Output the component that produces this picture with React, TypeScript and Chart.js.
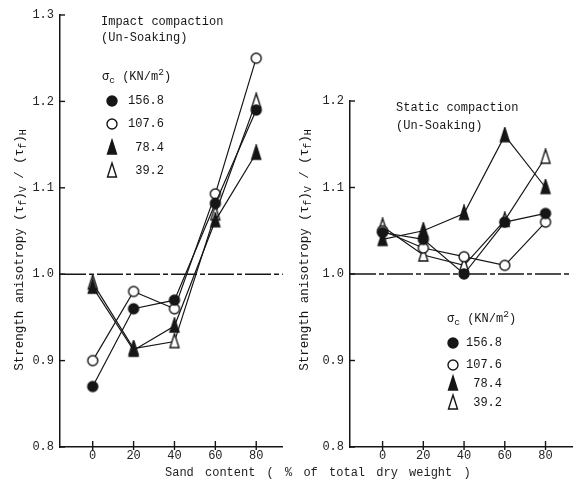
import React, { useEffect, useRef } from "react";
import { Chart, registerables } from "chart.js";

Chart.register(...registerables);

// ---------- data ----------
const sandContent = [0, 20, 40, 60, 80];
const xTickValues = [0, 20, 40, 60, 80];
const legendLabels = ["156.8", "107.6", "78.4", "39.2"];

const impact1568 = [0.87, 0.96, 0.97, 1.082, 1.19];
const impact1076 = [0.9, 0.98, 0.96, 1.093, 1.25];
const impact784 = [0.985, 0.912, 0.94, 1.062, 1.14];
const impact392 = [0.99, 0.914, 0.922, 1.07, 1.2];

const static1568 = [1.048, 1.04, 1.0, 1.06, 1.07];
const static1076 = [1.05, 1.03, 1.02, 1.01, 1.06];
const static784 = [1.04, 1.05, 1.07, 1.16, 1.1];
const static392 = [1.055, 1.022, 1.01, 1.062, 1.135];

const impactYTicks = [0.8, 0.9, 1.0, 1.1, 1.2, 1.3];
const staticYTicks = [0.8, 0.9, 1.0, 1.1, 1.2];

const impactTitle = ["Impact compaction", "(Un-Soaking)"];
const staticTitle = ["Static compaction", "(Un-Soaking)"];
const xAxisTitle = "Sand content ( % of total dry weight )";

// ---------- drawing helpers ----------
type Kind = "fc" | "oc" | "ft" | "ot";
const kinds: Kind[] = ["fc", "oc", "ft", "ot"];
const FONT = '"Liberation Mono", "DejaVu Sans Mono", monospace';
const INK = "#161616";

function drawMarker(ctx: CanvasRenderingContext2D, kind: Kind, x: number, y: number) {
  ctx.save();
  ctx.lineWidth = 1.4;
  ctx.strokeStyle = INK;
  ctx.fillStyle = kind[0] === "f" ? INK : "#fff";
  ctx.beginPath();
  if (kind[1] === "c") {
    ctx.arc(x, y, 5, 0, Math.PI * 2);
  } else {
    ctx.moveTo(x, y - 8);
    ctx.lineTo(x + 4.5, y + 6);
    ctx.lineTo(x - 4.5, y + 6);
    ctx.closePath();
  }
  ctx.fill();
  ctx.stroke();
  ctx.restore();
}

function markerCanvas(kind: Kind) {
  const c = document.createElement("canvas");
  c.width = 14;
  c.height = 18;
  const ctx = c.getContext("2d")!;
  drawMarker(ctx, kind, 7, 9);
  return c;
}

type Seg = [string, number]; // text, 0 normal / 1 subscript / -1 superscript
function drawSegs(ctx: CanvasRenderingContext2D, segs: Seg[], x: number, y: number, size: number, align: "left" | "center") {
  const sub = size * 0.8;
  const widths = segs.map(([t, s]) => {
    ctx.font = `${s ? sub : size}px ${FONT}`;
    return ctx.measureText(t).width;
  });
  const total = widths.reduce((a, b) => a + b, 0);
  let cx = align === "center" ? x - total / 2 : x;
  ctx.textAlign = "left";
  ctx.textBaseline = "middle";
  segs.forEach(([t, s], i) => {
    ctx.font = `${s ? sub : size}px ${FONT}`;
    ctx.fillText(t, cx, y + (s === 1 ? size * 0.3 : s === -1 ? -size * 0.35 : 0));
    cx += widths[i];
  });
}

interface PanelDeco {
  title: string[];
  titleX: number;
  titleY: number[];
  sigmaX: number;
  sigmaY: number;
  entryY: number[];
  markerX: number;
  textRight: number;
  yTitleX: number;
  yTitleY: number;
  yTicks: number[];
}

function makePlugin(deco: PanelDeco) {
  return {
    id: "deco",
    beforeDatasetsDraw(chart: any) {
      const { ctx, chartArea } = chart;
      const y = chart.scales.y.getPixelForValue(1.0);
      ctx.save();
      ctx.strokeStyle = INK;
      ctx.lineWidth = 1.4;
      ctx.setLineDash([26, 3, 5, 3]);
      ctx.beginPath();
      ctx.moveTo(chartArea.left, y);
      ctx.lineTo(chartArea.right, y);
      ctx.stroke();
      ctx.restore();
    },
    afterDraw(chart: any) {
      const { ctx, chartArea } = chart;
      ctx.save();
      ctx.strokeStyle = INK;
      ctx.fillStyle = INK;
      ctx.lineWidth = 1.4;
      // y tick marks (inside)
      deco.yTicks.forEach((v) => {
        const py = chart.scales.y.getPixelForValue(v);
        ctx.beginPath();
        ctx.moveTo(chartArea.left, py);
        ctx.lineTo(chartArea.left + 5, py);
        ctx.stroke();
      });
      // x tick marks (crossing)
      xTickValues.forEach((v) => {
        const px = chart.scales.x.getPixelForValue(v);
        ctx.beginPath();
        ctx.moveTo(px, chartArea.bottom - 6);
        ctx.lineTo(px, chartArea.bottom + 3);
        ctx.stroke();
      });
      // panel title
      ctx.textAlign = "left";
      ctx.textBaseline = "middle";
      ctx.font = `12px ${FONT}`;
      deco.title.forEach((t, i) => ctx.fillText(t, deco.titleX, deco.titleY[i]));
      // legend
      drawSegs(ctx, [["σ", 0], ["c", 1], [" (KN/m", 0], ["2", -1], [")", 0]], deco.sigmaX, deco.sigmaY, 12, "left");
      kinds.forEach((k, i) => {
        drawMarker(ctx, k, deco.markerX, deco.entryY[i]);
        ctx.font = `12px ${FONT}`;
        ctx.textAlign = "right";
        ctx.textBaseline = "middle";
        ctx.fillText(legendLabels[i], deco.textRight, deco.entryY[i]);
      });
      // y axis title
      ctx.translate(deco.yTitleX, deco.yTitleY);
      ctx.rotate(-Math.PI / 2);
      drawSegs(
        ctx,
        [
          ["Strength anisotropy (τ", 0],
          ["f", 1],
          [")", 0],
          ["V", 1],
          [" / (τ", 0],
          ["f", 1],
          [")", 0],
          ["H", 1],
        ],
        0,
        0,
        12.5,
        "center"
      );
      ctx.restore();
    },
  };
}

function makeConfig(series: number[][], yMin: number, yMax: number, yTicks: number[], padTop: number, padRight: number, deco: PanelDeco) {
  return {
    type: "scatter" as const,
    data: {
      datasets: series.map((vals, i) => ({
        label: legendLabels[i],
        data: sandContent.map((x, j) => ({ x, y: vals[j] })),
        showLine: true,
        borderColor: INK,
        borderWidth: 1.2,
        pointStyle: markerCanvas(kinds[i]),
        pointRadius: 6,
      })),
    },
    options: {
      responsive: false,
      animation: false,
      layout: { padding: { top: padTop, right: padRight, left: 0, bottom: 0 } },
      plugins: { legend: { display: false }, tooltip: { enabled: false } },
      scales: {
        x: {
          type: "linear",
          min: -16,
          max: 93,
          afterBuildTicks: (s: any) => {
            s.ticks = xTickValues.map((v) => ({ value: v }));
          },
          afterFit: (s: any) => {
            s.height = 34;
          },
          grid: { display: false, drawTicks: false },
          border: { display: true, color: INK, width: 1.5 },
          ticks: { color: "#222", padding: 2, font: { family: FONT, size: 12 }, callback: (v: any) => String(v) },
        },
        y: {
          type: "linear",
          min: yMin,
          max: yMax,
          afterBuildTicks: (s: any) => {
            s.ticks = yTicks.map((v) => ({ value: v }));
          },
          afterFit: (s: any) => {
            s.width = 60;
          },
          grid: { display: false, drawTicks: false },
          border: { display: true, color: INK, width: 1.5 },
          ticks: { color: "#222", padding: 6, font: { family: FONT, size: 12 }, callback: (v: any) => Number(v).toFixed(1) },
        },
      },
    },
    plugins: [makePlugin(deco)],
  };
}

function Panel(props: { left: number; width: number; config: any }) {
  const ref = useRef<HTMLCanvasElement | null>(null);
  useEffect(() => {
    const chart = new Chart(ref.current!, props.config);
    return () => chart.destroy();
  }, []);
  return (
    <canvas
      ref={ref}
      width={props.width}
      height={481}
      style={{ position: "absolute", left: props.left, top: 0, width: props.width, height: 481 }}
    />
  );
}

export default function App() {
  const leftCfg = makeConfig(
    [impact1568, impact1076, impact784, impact392],
    0.8,
    1.3,
    impactYTicks,
    15,
    2,
    {
      title: impactTitle,
      titleX: 101,
      titleY: [22, 38],
      sigmaX: 102,
      sigmaY: 77,
      entryY: [101, 124, 148, 171],
      markerX: 112,
      textRight: 164,
      yTitleX: 20,
      yTitleY: 250,
      yTicks: impactYTicks,
    }
  );
  const rightCfg = makeConfig(
    [static1568, static1076, static784, static392],
    0.8,
    1.2,
    staticYTicks,
    101,
    9,
    {
      title: staticTitle,
      titleX: 106,
      titleY: [108, 126],
      sigmaX: 157,
      sigmaY: 319,
      entryY: [343, 365, 384, 403],
      markerX: 163,
      textRight: 212,
      yTitleX: 15,
      yTitleY: 250,
      yTicks: staticYTicks,
    }
  );
  return (
    <div style={{ position: "fixed", left: 0, top: 0, width: 581, height: 481, background: "#fff", overflow: "hidden" }}>
      <Panel left={0} width={290} config={leftCfg} />
      <Panel left={290} width={291} config={rightCfg} />
      <div
        style={{
          position: "absolute",
          left: 165,
          top: 466,
          whiteSpace: "pre",
          font: `12px ${FONT}`,
          lineHeight: "14px",
          wordSpacing: "4px",
          color: "#222",
        }}
      >
        {xAxisTitle}
      </div>
    </div>
  );
}
